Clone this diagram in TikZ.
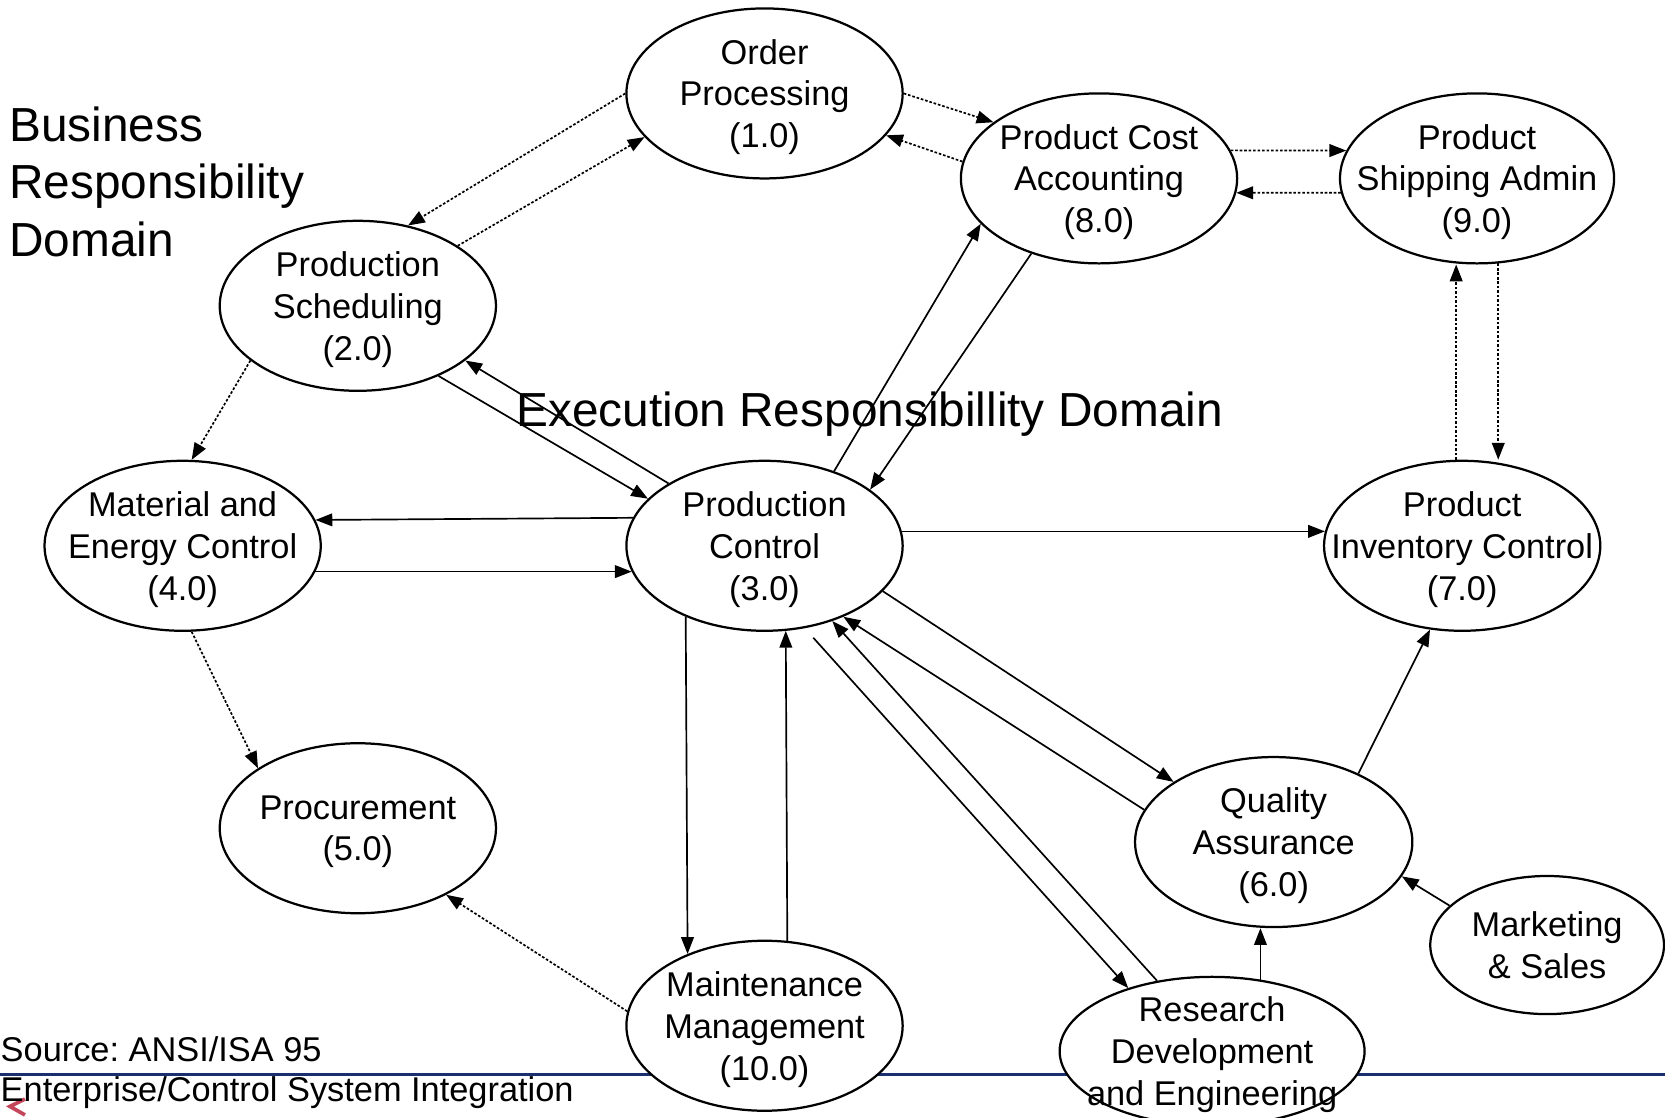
\documentclass[tikz,border=0pt]{standalone}
\usepackage{fontspec}
\setmainfont{Liberation Sans}
\usepackage{xcolor}
\usepackage{tikz}
\usetikzlibrary{shapes.geometric,arrows.meta}

\definecolor{rulenavy}{RGB}{24,48,112}
\definecolor{logored}{RGB}{196,70,90}
\frenchspacing

\begin{document}
\begin{tikzpicture}[x=0.01cm, y=-0.01cm,
    proc/.style={ellipse, draw, line width=0.6pt, fill=white,
        minimum width=2.6cm, minimum height=1.6cm,
        inner xsep=-5mm, inner ysep=-3mm, align=center,
        font=\fontsize{9.2}{11.2}\selectfont, text depth=-0.8pt},
    flow/.style={-{Triangle[length=4.5pt,width=3.4pt]}, line width=0.45pt},
    info/.style={flow, dash pattern=on 0.7pt off 0.5pt}]

    \useasboundingbox (0,0) rectangle (1568,1052);

    % footer rule and logo
    \draw[line width=0.8pt, rulenavy] (0,1012) -- (1568,1012);
    \draw[line width=1pt, logored] (23.5,1035) -- (9.4,1042) -- (23.5,1050);

    % functions
    \node[proc] (order) at (720,88) {Order\\Processing\\(1.0)};
    \node[proc] (cost) at (1035,168) {Product Cost\\Accounting\\(8.0)};
    \node[proc, minimum width=2.58cm] (ship) at (1391,168) {Product\\Shipping Admin\\(9.0)};
    \node[proc] (sched) at (337,288) {Production\\Scheduling\\(2.0)};
    \node[proc] (mat) at (172,514) {Material and\\Energy Control\\(4.0)};
    \node[proc] (ctrl) at (720,514) {Production\\Control\\(3.0)};
    \node[proc] (inv) at (1377,514) {Product\\Inventory Control\\(7.0)};
    \node[proc] (procure) at (337,780) {Procurement\\(5.0)};
    \node[proc, minimum width=2.61cm] (qa) at (1199.5,793) {Quality\\Assurance\\(6.0)};
    \node[proc, minimum width=2.2cm, minimum height=1.3cm] (mkt) at (1457,890) {Marketing\\\& Sales};
    \node[proc] (maint) at (720,966) {Maintenance\\Management\\(10.0)};
    \node[proc, minimum width=2.87cm, minimum height=1.4cm] (rde) at (1141.5,990) {Research\\Development\\and Engineering};

    % business flows (dotted)
    \draw[info] (order.0) -- (cost.152); % 1.0-8.0
    \draw[info] (cost.173) -- (order.-19); % 8.0-1.0
    \draw[info] (cost.12) -- (ship.168); % 8.0-9.0
    \draw[info] (ship.186) -- (cost.-6); % 9.0-8.0
    \draw[info] (order.180) -- (sched.58); % 1.0-2.0
    \draw[info] (sched.31) -- (order.200); % 2.0-1.0
    \draw[info] (sched.207) -- (mat.84); % 2.0-4.0
    \draw[info] (mat.276) -- (procure.149); % 4.0-5.0
    \draw[info] (maint.174) -- (procure.-37); % 10.0-5.0
    \draw[info] (inv.94.3) -- (inv.94.3 |- ship.south); % 7.0-9.0
    \draw[info] (ship.284) -- (ship.284 |- inv.north); % 9.0-7.0

    % execution flows
    \draw[flow] (sched.-41) -- (ctrl.158); % 2.0-3.0
    \draw[flow] (ctrl.147) -- (sched.-27); % 3.0-2.0
    \draw[flow] (ctrl.47) -- (cost.201); % 3.0-8.0
    \draw[flow] (cost.228) -- (ctrl.28); % 8.0-3.0
    \draw[flow] (ctrl.168.3) -- (mat.11.7); % 3.0-4.0
    \draw[flow] (mat.-11.5) -- (ctrl.191.5); % 4.0-3.0
    \draw[flow] (ctrl.6) -- (inv.174); % 3.0-7.0
    \draw[flow] (ctrl.222.2) -- (maint.137.8); % 3.0-10.0
    \draw[flow] (maint.75.1) -- (ctrl.284.9); % 10.0-3.0
    \draw[flow] (ctrl.-21) -- (qa.149); % 3.0-6.0
    \draw[flow] (qa.166) -- (ctrl.-42); % 6.0-3.0
    \draw[flow, shorten <=0.12cm] (ctrl.-64) -- (rde.143); % 3.0-R&D
    \draw[flow] (rde.128) -- (ctrl.-48); % R&D-3.0
    \draw[flow] (rde.56) -- (rde.56 |- qa.south); % R&D-6.0
    \draw[flow] (qa.39) -- (inv.249); % 6.0-7.0
    \draw[flow] (mkt.158) -- (qa.-15); % sales-6.0

    % domain labels
    \node[anchor=west, align=left, inner sep=0, font=\fontsize{12.8}{15.4}\selectfont] (busdom) at (8,171) {Business\\Responsibility\\Domain};
    \node[inner sep=0, font=\fontsize{12.8}{15}\selectfont] (execdom) at (819,390) {Execution Responsibillity Domain};
    \node[anchor=base west, inner sep=0, font=\fontsize{9.2}{11}\selectfont] (src) at (0,999.7) {Source: ANSI/ISA 95};
    \node[anchor=base west, inner sep=0, font=\fontsize{9.2}{11}\selectfont] (isa) at (0,1037.5) {Enterprise/Control System Integration};
\end{tikzpicture}
\end{document}
